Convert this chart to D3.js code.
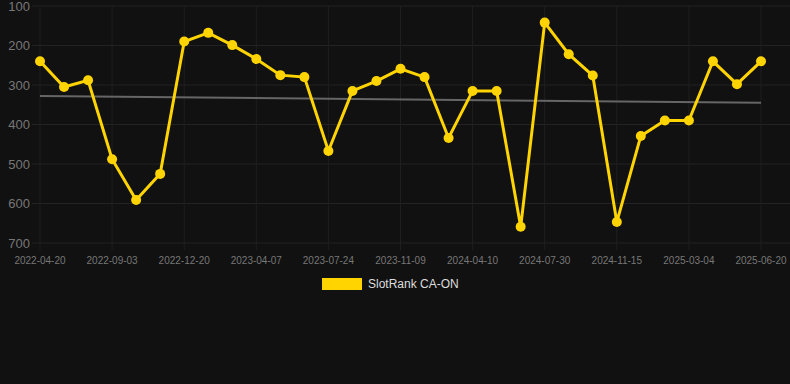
<!DOCTYPE html>
<html>
<head>
<meta charset="utf-8">
<script src="https://cdn.jsdelivr.net/npm/d3@7"></script>
<style>
  html, body { margin: 0; padding: 0; background: #111111; }
  svg { display: block; }
</style>
</head>
<body>
<div id="chart"></div>
<script>
// dates (category axis, every 3rd one is labelled)
var dates = [
  "2022-04-20", "2022-06-04", "2022-07-19", "2022-09-03", "2022-10-09", "2022-11-14",
  "2022-12-20", "2023-01-25", "2023-03-02", "2023-04-07", "2023-05-13", "2023-06-18",
  "2023-07-24", "2023-08-29", "2023-10-04", "2023-11-09", "2024-01-08", "2024-03-09",
  "2024-04-10", "2024-05-17", "2024-06-23", "2024-07-30", "2024-09-05", "2024-10-10",
  "2024-11-15", "2024-12-21", "2025-01-27", "2025-03-04", "2025-04-08", "2025-05-15",
  "2025-06-20"
];

// rank values (lower = better, axis reversed)
var ranks = [
  240, 305, 288, 488, 591, 525,
  190, 168, 199, 234, 275, 280,
  467, 315, 290, 259, 280, 434,
  315, 315, 659, 142, 222, 276,
  647, 429, 390, 390, 240, 298,
  240
];

var trend = [328, 345];   // start / end of trend line
var yTicks = [100, 200, 300, 400, 500, 600, 700];
var seriesName = "SlotRank CA-ON";

var W = 790, H = 384;
var svg = d3.select("#chart").append("svg")
  .attr("width", W)
  .attr("height", H);

var x = d3.scalePoint()
  .domain(dates)
  .range([40, 761]);

var y = d3.scaleLinear()
  .domain([100, 700])
  .range([6, 243]);

// horizontal grid + y labels
var gy = svg.append("g");
gy.selectAll("line")
  .data(yTicks)
  .join("line")
  .attr("x1", 32).attr("x2", W)
  .attr("y1", d => y(d)).attr("y2", d => y(d))
  .attr("stroke", "#232323")
  .attr("stroke-width", 1);
gy.selectAll("text")
  .data(yTicks)
  .join("text")
  .attr("x", 30)
  .attr("y", d => y(d))
  .attr("dy", "0.35em")
  .attr("text-anchor", "end")
  .attr("fill", "#777")
  .style("font", "13px 'Liberation Sans', Arial, sans-serif")
  .text(d => d);

// vertical grid + x labels (every 3rd date)
var xTicks = dates.filter((d, i) => i % 3 === 0);
var gx = svg.append("g");
gx.selectAll("line")
  .data(xTicks)
  .join("line")
  .attr("x1", d => x(d)).attr("x2", d => x(d))
  .attr("y1", y(100)).attr("y2", 250)
  .attr("stroke", "#1f1f1f")
  .attr("stroke-width", 1);
gx.selectAll("text")
  .data(xTicks)
  .join("text")
  .attr("x", d => x(d))
  .attr("y", 260)
  .attr("dy", "0.35em")
  .attr("text-anchor", "middle")
  .attr("fill", "#777")
  .style("font", "10px 'Liberation Sans', Arial, sans-serif")
  .text(d => d);

// trend line
svg.append("line")
  .attr("x1", x(dates[0])).attr("x2", x(dates[dates.length - 1]))
  .attr("y1", y(trend[0])).attr("y2", y(trend[1]))
  .attr("stroke", "#666")
  .attr("stroke-width", 2);

// series line
var pts = dates.map((d, i) => ({date: d, value: ranks[i]}));
svg.append("path")
  .datum(pts)
  .attr("fill", "none")
  .attr("stroke", "#FFD400")
  .attr("stroke-width", 3)
  .attr("d", d3.line().x(d => x(d.date)).y(d => y(d.value)));

svg.selectAll("circle.pt")
  .data(pts)
  .join("circle")
  .attr("class", "pt")
  .attr("cx", d => x(d.date))
  .attr("cy", d => y(d.value))
  .attr("r", 5)
  .attr("fill", "#FFD400");

// legend
var lg = svg.append("g").attr("transform", "translate(322,278)");
lg.append("rect")
  .attr("width", 40).attr("height", 12)
  .attr("fill", "#FFD400");
lg.append("text")
  .attr("x", 46).attr("y", 6)
  .attr("dy", "0.35em")
  .attr("fill", "#ddd")
  .style("font", "12px 'Liberation Sans', Arial, sans-serif")
  .text(seriesName);
</script>
</body>
</html>
